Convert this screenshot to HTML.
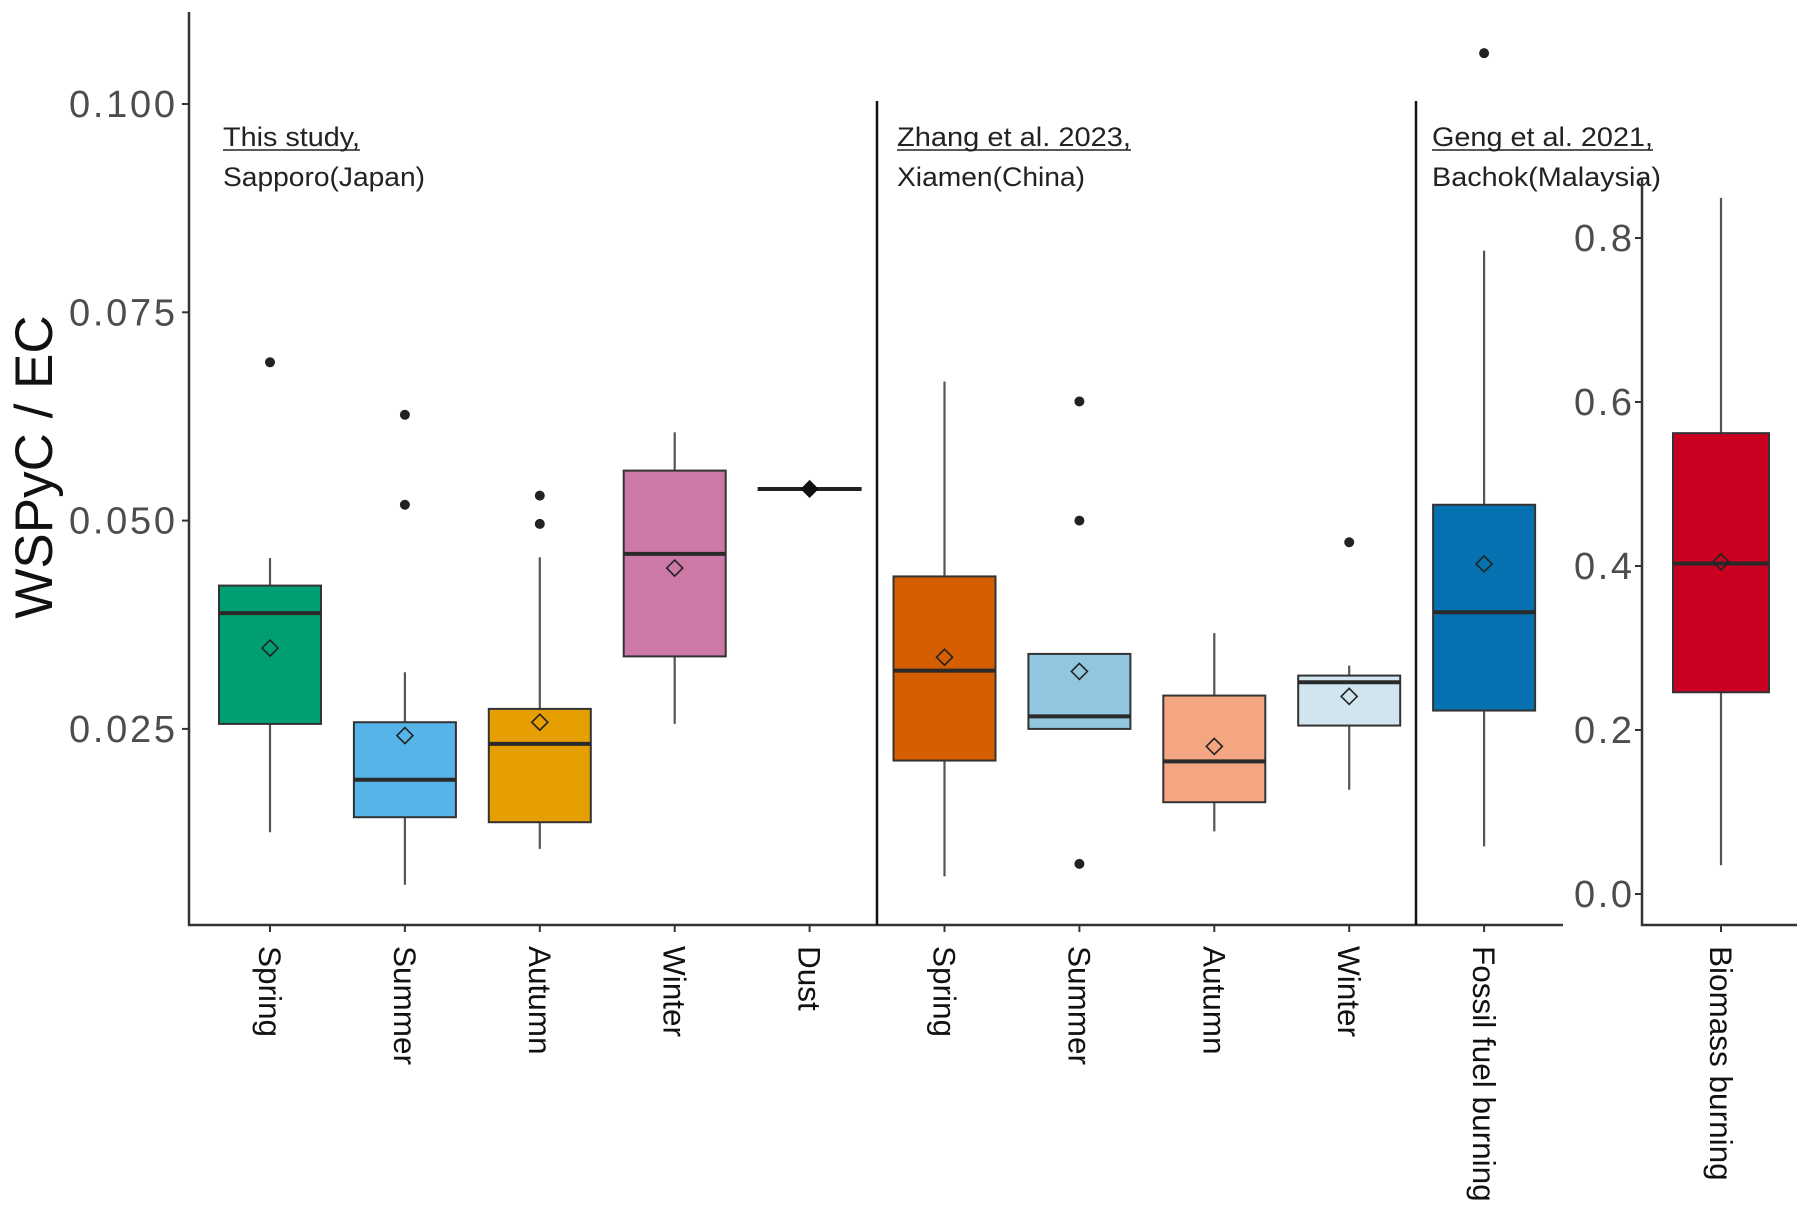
<!DOCTYPE html>
<html><head><meta charset="utf-8"><style>
html,body{margin:0;padding:0;background:#fff;}
svg{display:block;}
text{font-family:"Liberation Sans",sans-serif;}
</style></head><body>
<svg id="chart" width="1809" height="1206" viewBox="0 0 1809 1206" xmlns="http://www.w3.org/2000/svg">
<g id="main"></g>
<g id="right"></g>
</svg>
<script>
// ---- data (main panel) ----
const categories = ["Spring","Summer","Autumn","Winter","Dust","Spring","Summer","Autumn","Winter","Fossil fuel burning"];
const whiskerLow = [0.0126,0.0063,0.0106,0.0256,0.0538,0.0073,0.025,0.0127,0.0177,0.0109];
const q1 =        [0.0256,0.0144,0.0138,0.0337,0.0538,0.0212,0.025,0.0162,0.0254,0.0272];
const medians =   [0.0389,0.0189,0.0232,0.0460,0.0538,0.0320,0.0265,0.0211,0.0306,0.0390];
const q3 =        [0.0422,0.0258,0.0274,0.0560,0.0538,0.0433,0.0340,0.0290,0.0314,0.0519];
const whiskerHigh=[0.0455,0.0318,0.0456,0.0606,0.0538,0.0667,0.0340,0.0365,0.0326,0.0824];
const means =     [0.0347,0.0242,0.0258,0.0443,0.0538,0.0336,0.0319,0.0229,0.0289,0.0448];
const outliers =  [[0.069],[0.0627,0.0519],[0.053,0.0496],[],[],[],[0.0643,0.05,0.0088],[],[0.0474],[0.1061]];
const colors = ["#009E73","#56B4E9","#E69F00","#CC79A7","#000000","#D55E00","#92C5DE","#F4A582","#D1E5F0","#0571B0"];
const yTicks = [0.025,0.050,0.075,0.100];
const yTickLabels = ["0.025","0.050","0.075","0.100"];
// ---- data (biomass panel) ----
const bCategories = ["Biomass burning"];
const bWhiskerLow=[0.035], bQ1=[0.246], bMedian=[0.403], bQ3=[0.562], bWhiskerHigh=[0.849], bMean=[0.405];
const bColors=["#CA0020"];
const bTicks=[0.0,0.2,0.4,0.6,0.8];
const bTickLabels=["0.0","0.2","0.4","0.6","0.8"];

const NS="http://www.w3.org/2000/svg";
function mk(parent,tag,attrs,text){const e=document.createElementNS(NS,tag);for(const k in attrs)e.setAttribute(k,attrs[k]);if(text!==undefined)e.textContent=text;parent.appendChild(e);return e;}

const yMain = v => 104 + (0.1 - v)/0.025*208.3;
const xMain = i => 270 + i*134.9;
const main=document.getElementById('main');
function drawBox(g,x,lo,a,m,b,hi,mean,outs,col,y,name,half){
  const grp=mk(g,'g',{});
  
  
  if(lo===hi){
    mk(grp,'line',{x1:x-half,x2:x+half,y1:y(m),y2:y(m),stroke:'#222','stroke-width':4});
    mk(grp,'path',{d:`M${x},${y(mean)-8}L${x+8},${y(mean)}L${x},${y(mean)+8}L${x-8},${y(mean)}Z`,fill:'#111',stroke:'#111','stroke-width':1.5});
    return;
  }
  mk(grp,'line',{x1:x,x2:x,y1:y(hi),y2:y(b),stroke:'#555','stroke-width':2.2});
  mk(grp,'line',{x1:x,x2:x,y1:y(a),y2:y(lo),stroke:'#555','stroke-width':2.2});
  mk(grp,'rect',{x:x-half,y:y(b),width:2*half,height:Math.max(1,y(a)-y(b)),fill:col,stroke:'#333','stroke-width':2});
  mk(grp,'line',{x1:x-half,x2:x+half,y1:y(m),y2:y(m),stroke:'#2a2a2a','stroke-width':4});
  mk(grp,'path',{d:`M${x},${y(mean)-8}L${x+8},${y(mean)}L${x},${y(mean)+8}L${x-8},${y(mean)}Z`,fill:'none',stroke:'#222','stroke-width':1.6});
  outs.forEach(o=>mk(grp,'circle',{cx:x,cy:y(o),r:5,fill:'#222'}));
}
const yAxis=mk(main,'line',{x1:189,x2:189,y1:12,y2:926,stroke:'#333','stroke-width':2.5});


const xAxis=mk(main,'line',{x1:188,x2:1563,y1:925,y2:925,stroke:'#333','stroke-width':2.5});


yTicks.forEach((t,i)=>{
  mk(main,'line',{x1:182,x2:189,y1:yMain(t),y2:yMain(t),stroke:'#333','stroke-width':2});
  const tl=mk(main,'text',{x:175,y:yMain(t)+13,'text-anchor':'end','font-size':38,fill:'#4d4d4d',textLength:106,lengthAdjust:'spacing'},yTickLabels[i]);
  
  
});
const yt=mk(main,'text',{x:0,y:0,transform:'translate(52,467) rotate(-90)','text-anchor':'middle','font-size':53,fill:'#111'},'WSPyC / EC');


[877,1416].forEach(sx=>{const s=mk(main,'line',{x1:sx,x2:sx,y1:101,y2:925,stroke:'#111','stroke-width':2.5});
  
  });
[[223,"This study,","Sapporo(Japan)",202,137],[897,"Zhang et al. 2023,","Xiamen(China)",188,234],[1432,"Geng et al. 2021,","Bachok(Malaysia)",229,221]].forEach(a=>{
  const g=mk(main,'g',{});
  
  
  mk(g,'text',{x:a[0],y:146,'font-size':27,fill:'#222',textLength:a[4],lengthAdjust:'spacingAndGlyphs'},a[1]);
  mk(g,'line',{x1:a[0],x2:a[0]+a[4],y1:150,y2:150,stroke:'#222','stroke-width':1.5});
  mk(g,'text',{x:a[0],y:186,'font-size':27,fill:'#222',textLength:a[3],lengthAdjust:'spacingAndGlyphs'},a[2]);
});
categories.forEach((c,i)=>{
  const x=xMain(i);
  drawBox(main,x,whiskerLow[i],q1[i],medians[i],q3[i],whiskerHigh[i],means[i],outliers[i],colors[i],yMain,'box-'+c.toLowerCase().replace(/ /g,'-')+'-'+i,i===4?52:51);
  mk(main,'line',{x1:x,x2:x,y1:925,y2:932,stroke:'#333','stroke-width':2});
  const t=mk(main,'text',{x:0,y:0,transform:`translate(${x-11},946) rotate(90)`,'font-size':31.5,fill:'#111'},c);
  
  
});
const right=document.getElementById('right');
const yB = v => 894 - v/0.2*164;
const xB = i => 1721 + i*100;
const ba=mk(right,'line',{x1:1642,x2:1642,y1:179,y2:926,stroke:'#333','stroke-width':2.5});


const bx=mk(right,'line',{x1:1641,x2:1797,y1:925,y2:925,stroke:'#333','stroke-width':2.5});


bTicks.forEach((t,i)=>{
  mk(right,'line',{x1:1635,x2:1642,y1:yB(t),y2:yB(t),stroke:'#333','stroke-width':2});
  const tl=mk(right,'text',{x:1632,y:yB(t)+13,'text-anchor':'end','font-size':38,fill:'#4d4d4d',textLength:58,lengthAdjust:'spacing'},bTickLabels[i]);
  
  
});
bCategories.forEach((c,i)=>{
  const x=xB(i);
  drawBox(right,x,bWhiskerLow[i],bQ1[i],bMedian[i],bQ3[i],bWhiskerHigh[i],bMean[i],[],bColors[i],yB,'box-biomass-burning',48);
  mk(right,'line',{x1:x,x2:x,y1:925,y2:932,stroke:'#333','stroke-width':2});
  const t=mk(right,'text',{x:0,y:0,transform:`translate(${x-11},946) rotate(90)`,'font-size':31.5,fill:'#111'},c);
  
  
});
</script>
</body></html>
